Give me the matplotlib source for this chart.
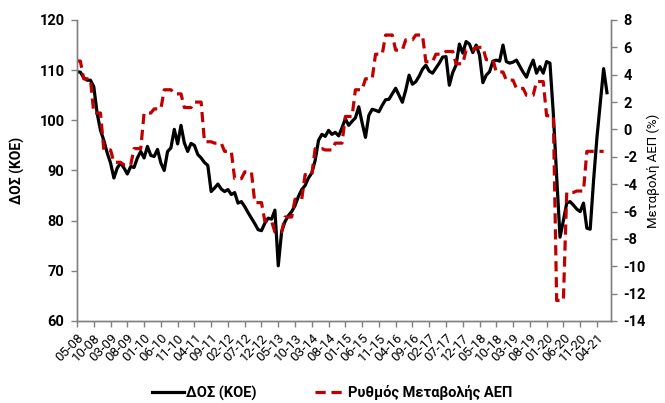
import numpy as np
import matplotlib
matplotlib.use("Agg")
import matplotlib.pyplot as plt
from matplotlib.lines import Line2D

plt.rcParams['font.family'] = ['Roboto', 'Noto Sans', 'DejaVu Sans']

# monthly index (05-08 ... 07-21), left axis
dos = [
    109.7, 109.6, 108.5, 108.0, 108.0, 106.7, 101.4, 98.0, 96.0, 93.5,
    91.5, 88.5, 90.5, 91.5, 90.5, 89.3, 90.8, 90.6, 92.5, 93.8,
    92.5, 94.8, 93.0, 92.8, 94.2, 91.5, 90.0, 93.8, 94.5, 98.2,
    95.3, 99.0, 95.5, 93.8, 95.4, 95.0, 93.2, 92.5, 91.6, 91.0,
    85.8, 86.5, 87.3, 86.3, 85.8, 86.2, 85.2, 85.6, 83.5, 83.8,
    82.8, 81.6, 80.5, 79.4, 78.2, 78.0, 79.5, 80.5, 80.3, 82.1,
    71.0, 77.8, 79.8, 81.0, 81.8, 83.0, 84.8, 86.2, 87.0, 88.5,
    89.5, 92.0, 96.0, 97.2, 96.8, 98.0, 97.2, 97.6, 96.9, 98.5,
    100.3, 99.0, 99.8, 100.5, 102.7, 99.5, 96.6, 101.0, 102.2, 102.0,
    101.7, 103.0, 104.1, 104.2, 105.3, 106.4, 105.0, 103.6, 106.0, 109.0,
    107.2, 107.7, 108.8, 110.2, 111.0, 109.8, 109.4, 110.4, 111.4, 112.6,
    112.7, 107.0, 109.5, 111.0, 115.2, 113.4, 115.7, 115.2, 113.5, 115.0,
    113.0, 107.5, 109.0, 109.7, 111.8, 112.0, 111.8, 115.0, 111.7, 111.4,
    111.6, 112.0, 110.8, 109.6, 108.6, 110.5, 112.0, 109.4, 110.7, 109.4,
    111.7, 111.4, 101.4, 88.8, 76.7, 80.0, 83.5, 83.8, 83.1, 82.3,
    81.8, 83.5, 78.5, 78.3, 88.0, 96.5, 103.5, 110.3, 105.5,
]

# quarterly GDP change (%), Q2-08 ... Q2-21, right axis
gdp_q = [
    5.0, 3.7, 1.2, -1.5, -2.4, -2.6, -1.4, 1.2, 1.5, 2.9,
    2.6, 1.6, 2.0, -0.9, -1.0, -1.6, -3.6, -3.1, -5.35, -6.7,
    -7.5, -6.4, -5.1, -3.3, -1.4, -1.5, -1.0, 0.95, 2.9, 3.7,
    5.5, 6.9, 5.8, 6.55, 6.9, 4.95, 5.5, 5.7, 4.8, 5.8,
    6.0, 5.1, 4.2, 3.6, 3.0, 2.5, 3.5, 1.0, -12.5, -4.6,
    -4.5, -1.6, -1.6,
]

tick_labels = [
    '05-08', '10-08', '03-09', '08-09', '01-10', '06-10', '11-10', '04-11',
    '09-11', '02-12', '07-12', '12-12', '05-13', '10-13', '03-14', '08-14',
    '01-15', '06-15', '11-15', '04-16', '09-16', '02-17', '07-17', '12-17',
    '05-18', '10-18', '03-19', '08-19', '01-20', '06-20', '11-20', '04-21',
]

# spread quarters over months (first quarter only has May and June)
gdp = [gdp_q[0]] * 2
for v in gdp_q[1:]:
    gdp += [v] * 3

x_dos = np.arange(len(dos))
x_gdp = np.arange(len(gdp))

red = '#C00000'
grey = '#808080'

fig = plt.figure(figsize=(6.65, 4.03), dpi=100)
ax = fig.add_axes([0.1158, 0.2035, 0.803, 0.7469])
ax2 = ax.twinx()

ax.plot(x_dos, dos, color='black', lw=2.3, solid_joinstyle='round')
ax2.plot(x_gdp, gdp, color=red, lw=2.3, dashes=(3.2, 1.8))

ax.set_xlim(0, 159.2)
ax.set_ylim(60, 120)
ax2.set_ylim(-14, 8)

yl = np.arange(60, 121, 10)
ax.set_yticks(yl)
ax.set_yticklabels([str(v) for v in yl], fontweight='bold', fontsize=10.5)
yr = np.arange(-14, 9, 2)
ax2.set_yticks(yr)
ax2.set_yticklabels([str(v) for v in yr], fontweight='bold', fontsize=10.5)

ax.set_xticks(np.arange(0, 5 * len(tick_labels), 5))
ax.set_xticklabels(tick_labels, rotation=45, ha='right', rotation_mode='anchor',
                   fontsize=9.5)

for a in (ax, ax2):
    a.spines['top'].set_visible(False)
    for s in ('left', 'right', 'bottom'):
        a.spines[s].set_color(grey)
        a.spines[s].set_linewidth(1.0)
    a.tick_params(color=grey, length=4, width=1.0)
ax.tick_params(axis='y', pad=5)
ax2.tick_params(axis='y', pad=5)

ax.set_ylabel('ΔΟΣ (ΚΟΕ)', fontweight='bold', fontsize=10, labelpad=10)
ax2.set_ylabel('Μεταβολή ΑΕΠ (%)', fontsize=9.5)
ax2.yaxis.set_label_coords(1.066, 0.5)

handles = [Line2D([], [], color='black', lw=2.3),
           Line2D([], [], color=red, lw=2.3, dashes=(3.2, 1.8))]
fig.legend(handles, ['ΔΟΣ (ΚΟΕ)', 'Ρυθμός Μεταβολής ΑΕΠ'], loc='center',
           bbox_to_anchor=(0.5, 0.025), ncol=2, frameon=False,
           handlelength=2.2, handletextpad=0.1, columnspacing=4.0,
           prop={'weight': 'bold', 'size': 10.5})

fig.savefig('out.png', dpi=100)
